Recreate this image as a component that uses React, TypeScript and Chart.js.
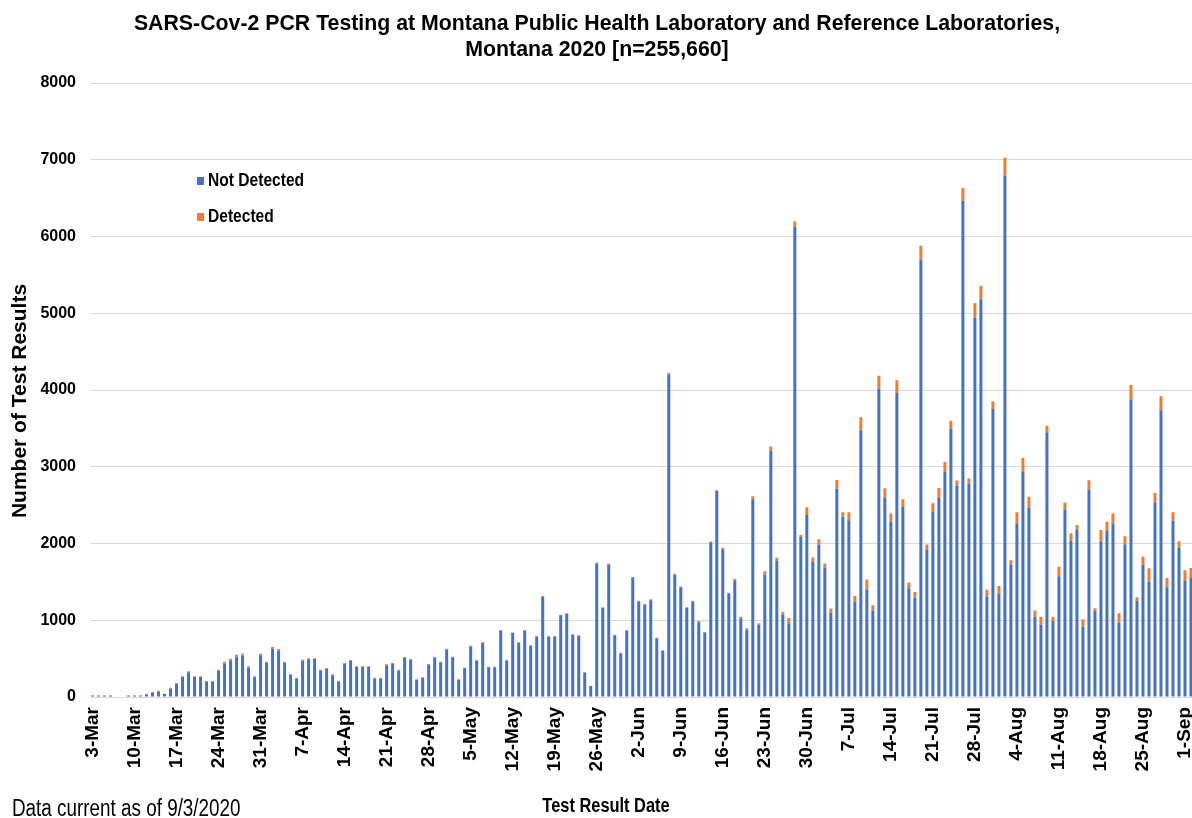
import React, { useEffect, useRef } from 'react';
import { Chart, registerables } from 'chart.js';

Chart.register(...registerables);

const MONTHS = ['Jan', 'Feb', 'Mar', 'Apr', 'May', 'Jun', 'Jul', 'Aug', 'Sep', 'Oct', 'Nov', 'Dec'];
const NUM_DAYS = 184;
// one category per test result date, 3-Mar-2020 .. 2-Sep-2020
const CATEGORIES: string[] = Array.from({ length: NUM_DAYS }, (_, i) => {
  const d = new Date(2020, 2, 3 + i);
  return `${d.getDate()}-${MONTHS[d.getMonth()]}`;
});

const TICK_LABELS = [
  '3-Mar', '10-Mar', '17-Mar', '24-Mar', '31-Mar', '7-Apr', '14-Apr', '21-Apr', '28-Apr',
  '5-May', '12-May', '19-May', '26-May', '2-Jun', '9-Jun', '16-Jun', '23-Jun', '30-Jun',
  '7-Jul', '14-Jul', '21-Jul', '28-Jul', '4-Aug', '11-Aug', '18-Aug', '25-Aug', '1-Sep',
];

const NOT_DETECTED = [
  20, 20, 20, 20, 0, 0, 20, 20, 18, 31,
  53, 68, 38, 112, 174, 259, 324, 259, 259, 196,
  196, 338, 438, 474, 529, 539, 385, 257, 543, 442,
  631, 603, 445, 287, 242, 474, 492, 494, 344, 368,
  285, 203, 431, 470, 390, 390, 390, 242, 242, 414,
  431, 346, 509, 485, 220, 246, 424, 515, 452, 620,
  517, 222, 377, 659, 474, 702, 387, 387, 863, 474,
  834, 704, 865, 668, 785, 1304, 785, 785, 1065, 1082,
  808, 798, 318, 142, 1741, 1164, 1728, 804, 567, 864,
  1555, 1243, 1203, 1261, 765, 604, 4202, 1593, 1429, 1159,
  1241, 970, 839, 2006, 2684, 1926, 1349, 1520, 1025, 876,
  2575, 941, 1594, 3204, 1773, 1069, 960, 6126, 2085, 2371,
  1758, 1985, 1688, 1094, 2718, 2347, 2302, 1237, 3475, 1400,
  1124, 4020, 2594, 2287, 3961, 2475, 1416, 1292, 5696, 1922,
  2409, 2593, 2931, 3493, 2755, 6463, 2781, 4944, 5184, 1311,
  3751, 1345, 6795, 1728, 2261, 2930, 2470, 1048, 942, 3449,
  992, 1572, 2445, 2032, 2175, 915, 2705, 1125, 2030, 2163,
  2260, 970, 1990, 3871, 1255, 1721, 1506, 2538, 3735, 1430,
  2301, 1945, 1510, 1550,
];

const DETECTED = [
  0, 0, 0, 0, 0, 0, 0, 0, 2, 12,
  12, 15, 5, 10, 8, 10, 10, 10, 10, 12,
  12, 18, 22, 25, 22, 25, 15, 12, 22, 18,
  20, 22, 15, 8, 10, 12, 12, 10, 12, 10,
  10, 5, 12, 12, 10, 10, 10, 10, 10, 12,
  12, 10, 12, 10, 10, 10, 6, 10, 8, 10,
  8, 8, 5, 10, 8, 10, 8, 8, 10, 8,
  8, 8, 8, 5, 10, 12, 10, 10, 8, 8,
  8, 5, 3, 2, 12, 5, 10, 8, 8, 8,
  10, 10, 10, 12, 8, 5, 18, 12, 12, 10,
  12, 20, 8, 20, 10, 20, 8, 20, 20, 20,
  40, 20, 45, 60, 40, 40, 70, 70, 25, 100,
  60, 70, 50, 60, 110, 60, 105, 80, 170, 130,
  70, 165, 125, 105, 165, 100, 75, 75, 185, 65,
  115, 130, 130, 105, 65, 170, 65, 185, 170, 85,
  100, 100, 230, 55, 145, 185, 140, 80, 105, 85,
  55, 125, 90, 100, 65, 95, 120, 30, 145, 120,
  130, 120, 105, 195, 45, 105, 170, 120, 185, 120,
  105, 85, 140, 130,
];

const Y_TICKS = [0, 1000, 2000, 3000, 4000, 5000, 6000, 7000, 8000];

const TITLE_LINES = [
  'SARS-Cov-2 PCR Testing at Montana Public Health Laboratory and Reference Laboratories,',
  'Montana 2020 [n=255,660]',
];
const Y_TITLE = 'Number of Test Results';
const X_TITLE = 'Test Result Date';
const FOOTNOTE = 'Data current as of 9/3/2020';

const BLUE = '#4472C4';
const ORANGE = '#ED7D31';

function narrowAvailable(): boolean {
  const ctx = document.createElement('canvas').getContext('2d');
  if (!ctx) return false;
  const s = 'Montana Public Health Laboratory';
  ctx.font = 'bold 40px "Liberation Sans Narrow", monospace';
  const a = ctx.measureText(s).width;
  ctx.font = 'bold 40px monospace';
  const b = ctx.measureText(s).width;
  return Math.abs(a - b) > 1;
}

export default function App() {
  const ref = useRef<HTMLCanvasElement | null>(null);

  useEffect(() => {
    const canvas = ref.current;
    if (!canvas) return;
    const hasNarrow = narrowAvailable();
    const WIDE = '"Liberation Sans", Arial, sans-serif';
    const NARROW = hasNarrow ? '"Liberation Sans Narrow", "Liberation Sans", Arial, sans-serif' : WIDE;
    // horizontal squeeze used to imitate a narrow face when none is installed
    const SX = hasNarrow ? 1 : 0.82;
    const titleSize = hasNarrow ? 23 : 21.3;

    const drawText = (ctx: CanvasRenderingContext2D, text: string, x: number, y: number, align: CanvasTextAlign) => {
      ctx.save();
      ctx.translate(x, y);
      ctx.scale(SX, 1);
      ctx.textAlign = align;
      ctx.fillText(text, 0, 0);
      ctx.restore();
    };

    const overlay = {
      id: 'overlayText',
      afterDraw(chart: any) {
        const ctx = chart.ctx as CanvasRenderingContext2D;
        ctx.save();
        // legend
        const ds = chart.data.datasets;
        const items = [
          { label: ds[0].label, color: ds[0].backgroundColor, y: 181 },
          { label: ds[1].label, color: ds[1].backgroundColor, y: 217 },
        ];
        ctx.textBaseline = 'middle';
        ctx.font = `bold 19px ${NARROW}`;
        for (const it of items) {
          ctx.fillStyle = it.color;
          ctx.fillRect(197, it.y - 4, 7, 8);
          ctx.fillStyle = '#000';
          drawText(ctx, it.label, 208, it.y, 'left');
        }
        // y-axis title
        ctx.save();
        ctx.translate(20, 401);
        ctx.rotate(-Math.PI / 2);
        ctx.textAlign = 'center';
        ctx.textBaseline = 'middle';
        ctx.font = `bold 21px ${WIDE}`;
        ctx.fillStyle = '#000';
        ctx.fillText(Y_TITLE, 0, 0);
        ctx.restore();
        // x-axis title
        ctx.textBaseline = 'alphabetic';
        ctx.font = `bold 20px ${NARROW}`;
        ctx.fillStyle = '#000';
        drawText(ctx, X_TITLE, 606, 812, 'center');
        // footnote
        ctx.font = `23px ${NARROW}`;
        drawText(ctx, FOOTNOTE, 12, 816, 'left');
        ctx.restore();
      },
    };

    const chart = new Chart(canvas, {
      type: 'bar',
      data: {
        labels: CATEGORIES,
        datasets: [
          { label: 'Not Detected', data: NOT_DETECTED, backgroundColor: BLUE, barPercentage: 0.5, categoryPercentage: 1 },
          { label: 'Detected', data: DETECTED, backgroundColor: ORANGE, barPercentage: 0.5, categoryPercentage: 1 },
        ],
      },
      options: {
        responsive: false,
        animation: false,
        devicePixelRatio: 1,
        layout: { padding: 0 },
        plugins: {
          legend: { display: false },
          tooltip: { enabled: false },
          title: {
            display: true,
            text: TITLE_LINES,
            color: '#000',
            font: { family: NARROW, size: titleSize, weight: 'bold', lineHeight: 26.4 / titleSize },
            padding: { top: 10.5, bottom: 19.7 },
          },
        },
        scales: {
          x: {
            stacked: true,
            offset: true,
            grid: { display: false, drawTicks: false },
            border: { display: false },
            ticks: {
              autoSkip: false,
              maxRotation: 90,
              minRotation: 90,
              padding: 10,
              color: '#000',
              font: { family: WIDE, size: 19, weight: 'bold' },
              callback: (_v: any, i: number) => (TICK_LABELS.includes(CATEGORIES[i]) ? CATEGORIES[i] : ''),
            },
            afterFit: (s: any) => {
              s.height = 121;
              s.paddingLeft = 0;
              s.paddingRight = 0;
            },
          },
          y: {
            stacked: true,
            min: Y_TICKS[0],
            max: Y_TICKS[Y_TICKS.length - 1],
            grid: { color: '#d9d9d9', drawTicks: false },
            border: { display: false },
            ticks: {
              stepSize: Y_TICKS[1] - Y_TICKS[0],
              padding: 13.5,
              color: '#000',
              font: { family: NARROW, size: hasNarrow ? 19 : 16, weight: 'bold' },
              callback: (v: any) => String(v),
            },
            afterFit: (s: any) => { s.width = 89.5; },
          },
        },
      },
      plugins: [overlay],
    } as any);

    return () => chart.destroy();
  }, []);

  return (
    <div style={{ position: 'fixed', left: 0, top: 0, width: 1192, height: 818, overflow: 'hidden', background: '#fff' }}>
      <canvas ref={ref} width={1194} height={818} style={{ display: 'block' }} />
    </div>
  );
}
